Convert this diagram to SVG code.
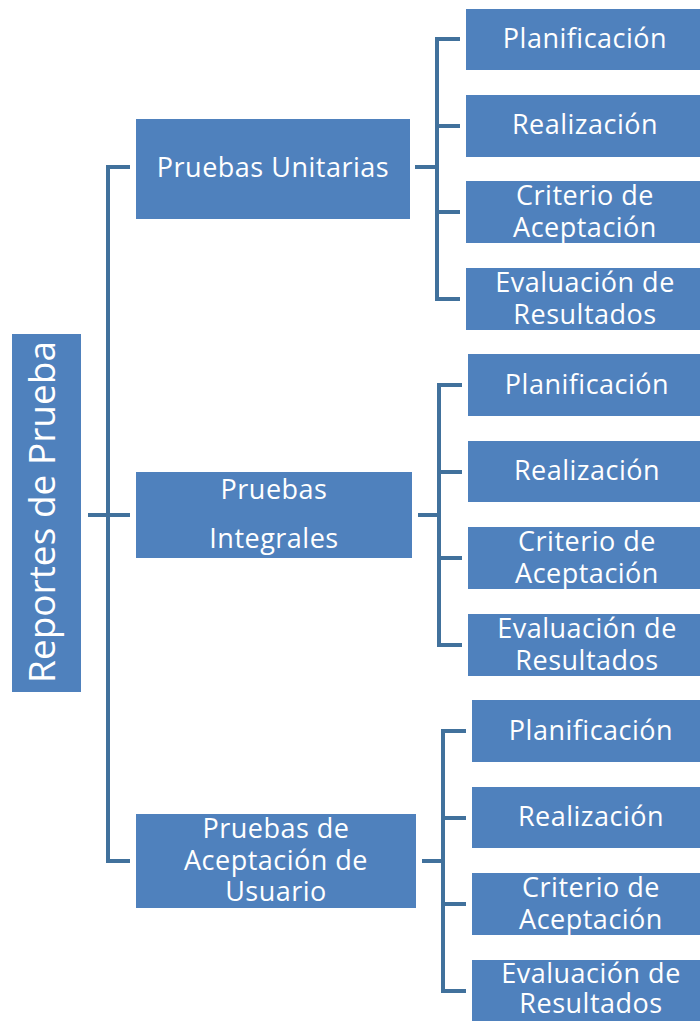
<svg xmlns="http://www.w3.org/2000/svg" width="700" height="1021" viewBox="0 0 700 1021">
<style>
.box{fill:#4F81BD;}
.t{fill:#FFFFFF;font-family:"Open Sans","Liberation Sans",sans-serif;font-size:27px;letter-spacing:0.5px;text-anchor:middle;}
.r{fill:#FFFFFF;font-family:"Open Sans","Liberation Sans",sans-serif;font-size:37px;text-anchor:middle;}
.c{fill:none;stroke:#41719C;stroke-width:4;}
</style>
<rect width="700" height="1021" fill="#FFFFFF"/>
<g id="connectors">
<path class="c" d="M130,167 H108 V861 H130"/>
<path class="c" d="M88,515 H130"/>
<path class="c" d="M460,39 H437 V299 H460 M437,126 H460 M437,212 H460 M415,167 H437"/>
<path class="c" d="M462,385 H439 V645 H462 M439,472 H462 M439,558 H462 M418,515 H439"/>
<path class="c" d="M466,731 H443 V991 H466 M443,818 H466 M443,904 H466 M422,861 H443"/>
</g>
<g id="root">
<rect class="box" x="12" y="334" width="69" height="358"/>
<text class="r" transform="translate(55,512) rotate(-90)">Reportes de Prueba</text>
</g>
<g id="unitarias">
<rect class="box" x="136" y="119" width="274" height="100"/>
<text class="t" x="273" y="177">Pruebas Unitarias</text>
</g>
<g id="integrales">
<rect class="box" x="136" y="472" width="276" height="86"/>
<text class="t" x="274" y="499">Pruebas</text>
<text class="t" x="274" y="548">Integrales</text>
</g>
<g id="aceptacion">
<rect class="box" x="136" y="814" width="280" height="94"/>
<text class="t" x="276" y="838">Pruebas de</text>
<text class="t" x="276" y="870">Aceptación de</text>
<text class="t" x="276" y="901">Usuario</text>
</g>
<g id="u-plan"><rect class="box" x="466" y="9" width="234" height="61"/><text class="t" x="585" y="48">Planificación</text></g>
<g id="u-real"><rect class="box" x="466" y="95" width="234" height="62"/><text class="t" x="585" y="134">Realización</text></g>
<g id="u-crit"><rect class="box" x="466" y="181" width="234" height="62"/><text class="t" x="585" y="205">Criterio de</text><text class="t" x="585" y="237">Aceptación</text></g>
<g id="u-eval"><rect class="box" x="466" y="268" width="234" height="62"/><text class="t" x="585" y="292">Evaluación de</text><text class="t" x="585" y="324">Resultados</text></g>
<g id="i-plan"><rect class="box" x="468" y="354" width="232" height="62"/><text class="t" x="587" y="394">Planificación</text></g>
<g id="i-real"><rect class="box" x="468" y="441" width="232" height="61"/><text class="t" x="587" y="480">Realización</text></g>
<g id="i-crit"><rect class="box" x="468" y="527" width="232" height="62"/><text class="t" x="587" y="551">Criterio de</text><text class="t" x="587" y="583">Aceptación</text></g>
<g id="i-eval"><rect class="box" x="468" y="614" width="232" height="62"/><text class="t" x="587" y="638">Evaluación de</text><text class="t" x="587" y="670">Resultados</text></g>
<g id="a-plan"><rect class="box" x="472" y="700" width="228" height="62"/><text class="t" x="591" y="740">Planificación</text></g>
<g id="a-real"><rect class="box" x="472" y="787" width="228" height="61"/><text class="t" x="591" y="826">Realización</text></g>
<g id="a-crit"><rect class="box" x="472" y="873" width="228" height="62"/><text class="t" x="591" y="897">Criterio de</text><text class="t" x="591" y="929">Aceptación</text></g>
<g id="a-eval"><rect class="box" x="472" y="960" width="228" height="61"/><text class="t" x="591" y="983">Evaluación de</text><text class="t" x="591" y="1013">Resultados</text></g>
</svg>
